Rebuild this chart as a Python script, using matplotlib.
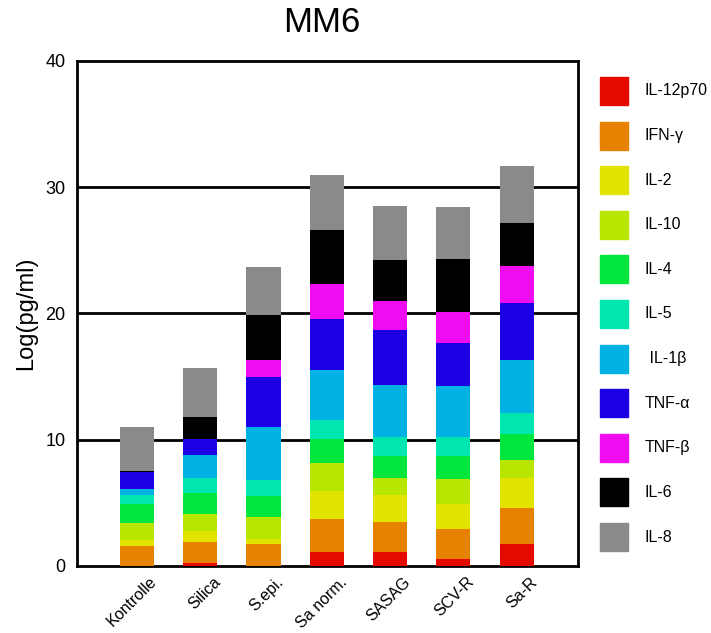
import numpy as np
import matplotlib
matplotlib.use('Agg')
import matplotlib.pyplot as plt
import matplotlib.transforms as mtransforms
from matplotlib.patches import Rectangle

plt.rcParams['font.family'] = ['Liberation Sans', 'DejaVu Sans']

groups = ['Kontrolle', 'Silica', 'S.epi.', 'Sa norm.', 'SASAG', 'SCV-R', 'Sa-R']
cytokines = ['IL-12p70', 'IFN-γ', 'IL-2', 'IL-10', 'IL-4', 'IL-5', ' IL-1β',
             'TNF-α', 'TNF-β', 'IL-6', 'IL-8']
colors = ['#e50a00', '#e68200', '#e3e300', '#b8e600', '#00e63c', '#00e6b0',
          '#00b2e3', '#1c00e3', '#f00cf0', '#000000', '#8a8a8a']

il12p70 = [0.0, 0.2, 0.0, 1.08, 1.08, 0.58, 1.77]
ifng = [1.61, 1.69, 1.73, 2.63, 2.43, 2.32, 2.79]
il2 = [0.42, 0.87, 0.43, 2.2, 2.11, 2.0, 2.38]
il10 = [1.37, 1.33, 1.71, 2.21, 1.32, 2.01, 1.45]
il4 = [1.48, 1.68, 1.66, 1.9, 1.79, 1.79, 2.08]
il5 = [0.71, 1.19, 1.25, 1.56, 1.48, 1.48, 1.64]
il1b = [0.47, 1.82, 4.22, 3.91, 4.14, 4.1, 4.22]
tnfa = [1.37, 1.25, 3.96, 4.06, 4.33, 3.37, 4.49]
tnfb = [0.0, 0.0, 1.32, 2.8, 2.27, 2.45, 2.9]
il6 = [0.1, 1.75, 3.62, 4.22, 3.3, 4.23, 3.46]
il8 = [3.5, 3.9, 3.8, 4.38, 4.25, 4.12, 4.48]

series = [il12p70, ifng, il2, il10, il4, il5, il1b, tnfa, tnfb, il6, il8]

fig = plt.figure(figsize=(7.11, 6.33), dpi=100)
ax = fig.add_axes([0.108, 0.106, 0.705, 0.798])

x = np.arange(len(groups))
bottom = np.zeros(len(groups))
for vals, c in zip(series, colors):
    ax.bar(x, vals, 0.54, bottom=bottom, color=c, zorder=3)
    bottom += np.array(vals)

ax.set_xlim(-0.95, 6.97)
ax.set_ylim(0, 40)
ax.set_yticks([0, 10, 20, 30, 40])
ax.tick_params(axis='y', labelsize=13, length=0, pad=8)
ax.tick_params(axis='x', length=0, pad=6)
ax.set_xticks(x)
ax.set_xticklabels(groups, rotation=45, ha='right', rotation_mode='anchor', fontsize=11.5)
shift = mtransforms.ScaledTranslation(9 / 72, 0, fig.dpi_scale_trans)
for lbl in ax.get_xticklabels():
    lbl.set_transform(lbl.get_transform() + shift)
for yv in [10, 20, 30]:
    ax.axhline(yv, color='black', lw=2, zorder=2)
for s in ax.spines.values():
    s.set_linewidth(2)
ax.set_ylabel('Log(pg/ml)', fontsize=17, labelpad=6)
fig.text(0.453, 0.965, 'MM6', fontsize=25, ha='center', va='center')

# legend, drawn in pixel-like coordinates
lax = fig.add_axes([590 / 711, 0, 121 / 711, 1])
lax.set_xlim(0, 121)
lax.set_ylim(633, 0)
lax.axis('off')
for i, (name, c) in enumerate(zip(cytokines, colors)):
    y0 = 77 + i * 44.6
    lax.add_patch(Rectangle((10, y0), 28, 28, color=c))
    lax.text(55, y0 + 14, name, fontsize=11.5, va='center', ha='left')

plt.savefig('out.png', dpi=100)
